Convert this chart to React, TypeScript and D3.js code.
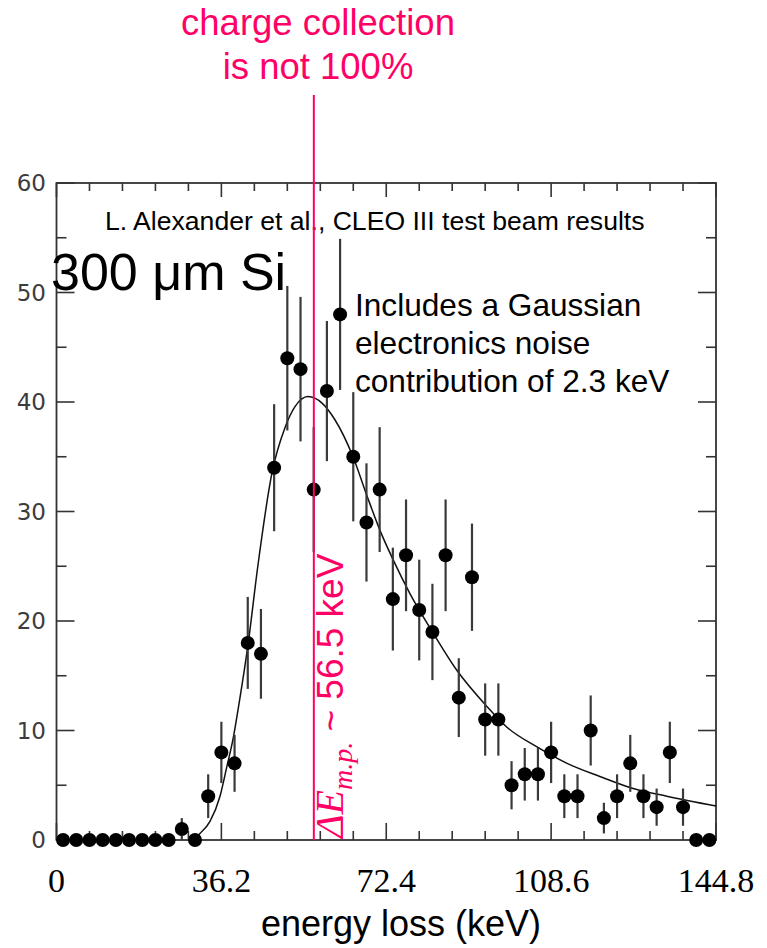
import React from "react";
import * as d3 from "d3";

// Energy-loss histogram: counts per bin (bin width 2.896 keV, 50 bins up to 144.8 keV)
const counts = [
  0, 0, 0, 0, 0, 0, 0, 0, 0, 1,
  0, 4, 8, 7, 18, 17, 34, 44, 43, 32,
  41, 48, 35, 29, 32, 22, 26, 21, 19, 26,
  13, 24, 11, 11, 5, 6, 6, 8, 4, 4,
  10, 2, 4, 7, 4, 3, 8, 3, 0, 0,
];
// Statistical error per bin
const errors = [
  0, 0, 0, 0, 0, 0, 0, 0, 0, 1.0,
  0, 2.0, 2.8, 2.6, 4.2, 4.1, 5.8, 6.6, 6.6, 5.7,
  6.4, 6.9, 5.9, 5.4, 5.7, 4.7, 5.1, 4.6, 4.4, 5.1,
  3.6, 4.9, 3.3, 3.3, 2.2, 2.4, 2.4, 2.8, 2.0, 2.0,
  3.2, 1.4, 2.0, 2.6, 2.0, 1.7, 2.8, 1.7, 0, 0,
];
const binWidth = 2.896;

// Fitted Landau (x) Gaussian curve, sampled
const fitEnergy = [
  30.0, 31.5, 33.7, 35.9, 37.4, 38.8, 39.9, 42.1, 44.2, 47.3,
  50.2, 52.4, 55.2, 58.3, 61.1, 65.1, 68.2, 71.0, 73.9, 77.6,
  82.7, 87.9, 94.5, 98.9, 105.5, 112.1, 119.3, 126.6, 134.0, 144.8,
];
const fitCounts = [
  0, 0.6, 1.7, 4.0, 6.7, 9.3, 12.0, 18.0, 25.0, 33.5,
  37.7, 39.6, 40.5, 39.9, 38.4, 35.0, 31.4, 28.3, 25.6, 22.5,
  18.9, 15.5, 12.2, 10.3, 8.5, 7.0, 5.8, 4.7, 4.0, 3.1,
];

const xTickLabels = ["0", "36.2", "72.4", "108.6", "144.8"];
const xTickValues = [0, 36.2, 72.4, 108.6, 144.8];
const yTickValues = [0, 10, 20, 30, 40, 50, 60];
const mostProbable = 56.5;

const PINK = "#ff0066";
const AXIS = "#333";

export default function App() {
  const x = d3.scaleLinear().domain([0, 144.8]).range([56.5, 716]);
  const y = d3.scaleLinear().domain([0, 60]).range([840, 183]);

  const [x0, x1] = x.range();
  const [yb, yt] = y.range();

  const minorX = d3.range(0, 21).map((i) => i * 7.24);
  const minorY = d3.range(0, 13).map((i) => i * 5);

  const line = d3
    .line<number>()
    .x((_, i) => x(fitEnergy[i]))
    .y((d) => y(d))
    .curve(d3.curveMonotoneX);

  const bins = counts.map((c, i) => ({
    e: (i + 0.5) * binWidth,
    c,
    err: errors[i],
  }));

  return (
    <svg
      width={767}
      height={948}
      style={{ position: "absolute", left: 0, top: 0, background: "#fff" }}
      fontFamily="'Liberation Sans', Arial, sans-serif"
    >
      {/* ticks */}
      <g stroke={AXIS} strokeWidth={1.6}>
        {minorX.map((v, i) => {
          const major = i % 5 === 0;
          const len = major ? 17 : 9;
          const px = x(v);
          return (
            <g key={"xt" + i}>
              <line x1={px} x2={px} y1={yb} y2={yb - len} />
              <line x1={px} x2={px} y1={yt} y2={yt + (major ? 14 : 8)} />
            </g>
          );
        })}
        {minorY.map((v, i) => {
          const major = i % 2 === 0;
          const len = major ? 18 : 10;
          const py = y(v);
          return (
            <g key={"yt" + i}>
              <line x1={x0} x2={x0 + len} y1={py} y2={py} />
              <line x1={x1} x2={x1 - len} y1={py} y2={py} />
            </g>
          );
        })}
      </g>

      {/* frame */}
      <rect
        x={x0}
        y={yt}
        width={x1 - x0}
        height={yb - yt}
        fill="none"
        stroke={AXIS}
        strokeWidth={1.8}
      />

      {/* y tick labels */}
      <g fontFamily="'DejaVu Sans', sans-serif" fontSize={23} fill="#3c3c3c" textAnchor="end">
        {yTickValues.map((v) => (
          <text key={"yl" + v} x={46} y={y(v)} dy="0.36em">
            {v}
          </text>
        ))}
      </g>

      {/* x tick labels */}
      <g fontFamily="'Liberation Serif', 'Times New Roman', serif" fontSize={34} fill="#000" textAnchor="middle">
        {xTickValues.map((v, i) => (
          <text key={"xl" + i} x={x(v)} y={892}>
            {xTickLabels[i]}
          </text>
        ))}
      </g>

      <text x={401} y={936} fontSize={36} textAnchor="middle" fill="#000">
        energy loss (keV)
      </text>

      {/* fit curve */}
      <path d={line(fitCounts) || ""} fill="none" stroke="#111" strokeWidth={1.5} />

      {/* error bars */}
      <g stroke="#3a3a3a" strokeWidth={2.2}>
        {bins
          .filter((b) => b.err > 0)
          .map((b, i) => (
            <line
              key={"eb" + i}
              x1={x(b.e)}
              x2={x(b.e)}
              y1={y(b.c + b.err)}
              y2={y(Math.max(0, b.c - b.err))}
            />
          ))}
      </g>

      {/* data points */}
      <g fill="#000">
        {bins.map((b, i) => (
          <circle key={"pt" + i} cx={x(b.e)} cy={y(b.c)} r={7} />
        ))}
      </g>

      {/* annotations */}
      <text x={105} y={230} fontSize={26.6} fill="#000">
        L. Alexander et al., CLEO III test beam results
      </text>
      <text x={51} y={290} fontSize={52} fill="#000">
        300 μm Si
      </text>
      <g fontSize={31.6} fill="#000">
        <text x={355} y={316}>Includes a Gaussian</text>
        <text x={355} y={354}>electronics noise</text>
        <text x={355} y={392}>contribution of 2.3 keV</text>
      </g>

      {/* most probable energy loss marker */}
      <line
        x1={x(mostProbable)}
        x2={x(mostProbable)}
        y1={95}
        y2={yb}
        stroke={PINK}
        strokeWidth={2}
      />
      <g fill={PINK} textAnchor="middle" fontSize={36.5}>
        <text x={318} y={35}>charge collection</text>
        <text x={318} y={79}>is  not 100%</text>
      </g>
      <text transform="translate(343, 838) rotate(-90)" fill={PINK}>
        <tspan fontFamily="'Liberation Serif', serif" fontStyle="italic" fontSize={40}>
          ΔE
        </tspan>
        <tspan fontFamily="'Liberation Serif', serif" fontStyle="italic" fontSize={28} dy={9}>
          m.p.
        </tspan>
        <tspan fontSize={37} dy={-9}>
          {` ~ ${mostProbable} keV`}
        </tspan>
      </text>
    </svg>
  );
}
